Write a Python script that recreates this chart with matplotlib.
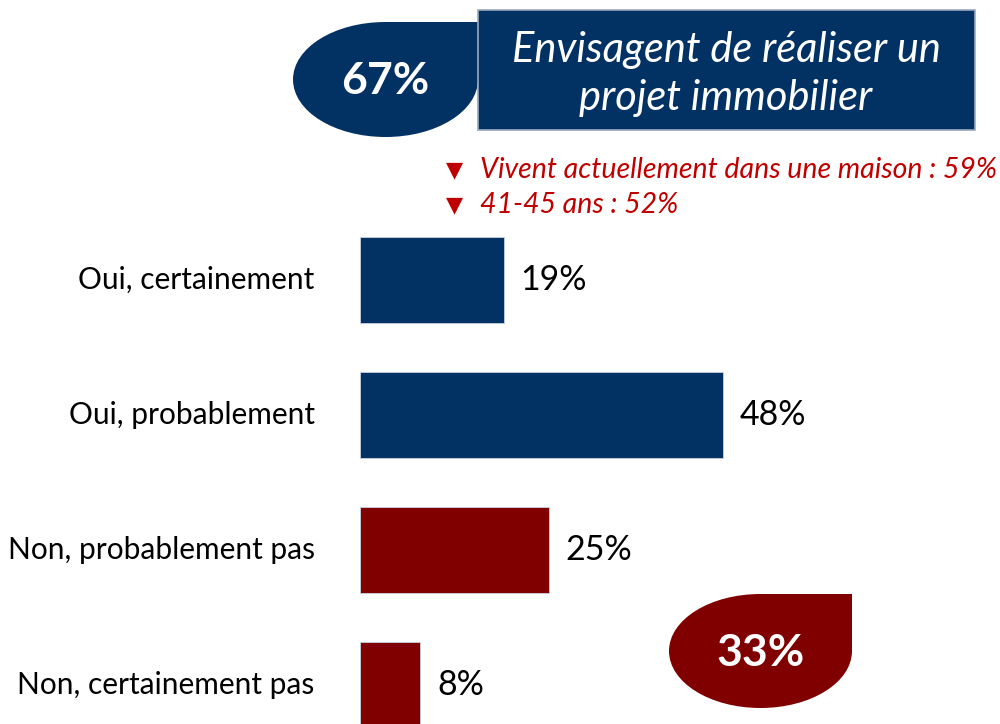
import matplotlib
matplotlib.use("Agg")
import matplotlib.pyplot as plt
from matplotlib.path import Path
from matplotlib.patches import PathPatch, Rectangle

plt.rcParams["font.family"] = ["Lato", "DejaVu Sans"]

categories = ["Oui, certainement", "Oui, probablement",
              "Non, probablement pas", "Non, certainement pas"]
values = [19, 48, 25, 8]
bar_colors = ["#023263", "#023263", "#800000", "#800000"]

total_oui = "67%"
total_non = "33%"
title_text = "Envisagent de réaliser un\nprojet immobilier"
notes = ["Vivent actuellement dans une maison : 59%", "41-45 ans : 52%"]

W, H = 1000, 724
fig = plt.figure(figsize=(W / 100, H / 100), dpi=100)


def teardrop(ax, left, top, right, bottom, color):
    # ellipse with a square top-right corner (PowerPoint teardrop)
    cx, cy = (left + right) / 2, (top + bottom) / 2
    rx, ry = (right - left) / 2, (bottom - top) / 2
    k = 0.5523
    verts = [
        (cx, top),
        (cx - k * rx, top), (left, cy - k * ry), (left, cy),
        (left, cy + k * ry), (cx - k * rx, bottom), (cx, bottom),
        (cx + k * rx, bottom), (right, cy + k * ry), (right, cy),
        (right, top),
        (cx, top),
    ]
    codes = [Path.MOVETO] + [Path.CURVE4] * 9 + [Path.LINETO, Path.CLOSEPOLY]
    ax.add_patch(PathPatch(Path(verts, codes), facecolor=color,
                           edgecolor="none"))
    return cx, cy


# bar axes: x=0 at 360px, 7.56 px per percent; rows 135 px apart
px_per_pct = 7.56
x0, y_top = 360, 212.5
ax = fig.add_axes([x0 / W, 0, 50 * px_per_pct / W, (H - y_top) / H])
ypos = list(range(len(categories)))
ax.barh(ypos, values, height=0.63, color=bar_colors,
        edgecolor="#c8d2e0", linewidth=0.6)
ax.set_xlim(0, 50)
ax.set_ylim(3 + (H - 685) / 135, -0.5)
for y, v in zip(ypos, values):
    ax.text(v + 2.2, y, f"{v}%", va="center", ha="left", fontsize=24.5,
            color="black", clip_on=False)
for y, c in zip(ypos, categories):
    ax.text(-6, y, c, va="center", ha="right", fontsize=21.5,
            color="black", clip_on=False)
ax.axis("off")

# overlay for the decorative boxes
ov = fig.add_axes([0, 0, 1, 1], zorder=5)
ov.set_xlim(0, W)
ov.set_ylim(H, 0)
ov.axis("off")

cx, cy = teardrop(ov, 293, 22, 478, 137, "#023263")
ov.text(cx, cy + 2, total_oui, ha="center", va="center", fontsize=32,
        fontweight="bold", color="white")
ov.add_patch(Rectangle((478, 10), 497, 120, facecolor="#023263",
                       edgecolor="#9aa8bd", linewidth=1.2))
ov.text(726, 74, title_text, ha="center", va="center", fontsize=30,
        style="italic", color="white", linespacing=1.32)

for i, note in enumerate(notes):
    yy = 170 + 35 * i
    ov.text(446, yy, "▼", ha="left", va="center", fontsize=16,
            color="#c00000", family="DejaVu Sans")
    ov.text(480, yy, note, ha="left", va="center", fontsize=20.5,
            style="italic", color="#c00000")

cx, cy = teardrop(ov, 669, 594, 852, 708, "#800000")
ov.text(cx, cy + 2, total_non, ha="center", va="center", fontsize=32,
        fontweight="bold", color="white")

fig.savefig("out.png", dpi=100)
